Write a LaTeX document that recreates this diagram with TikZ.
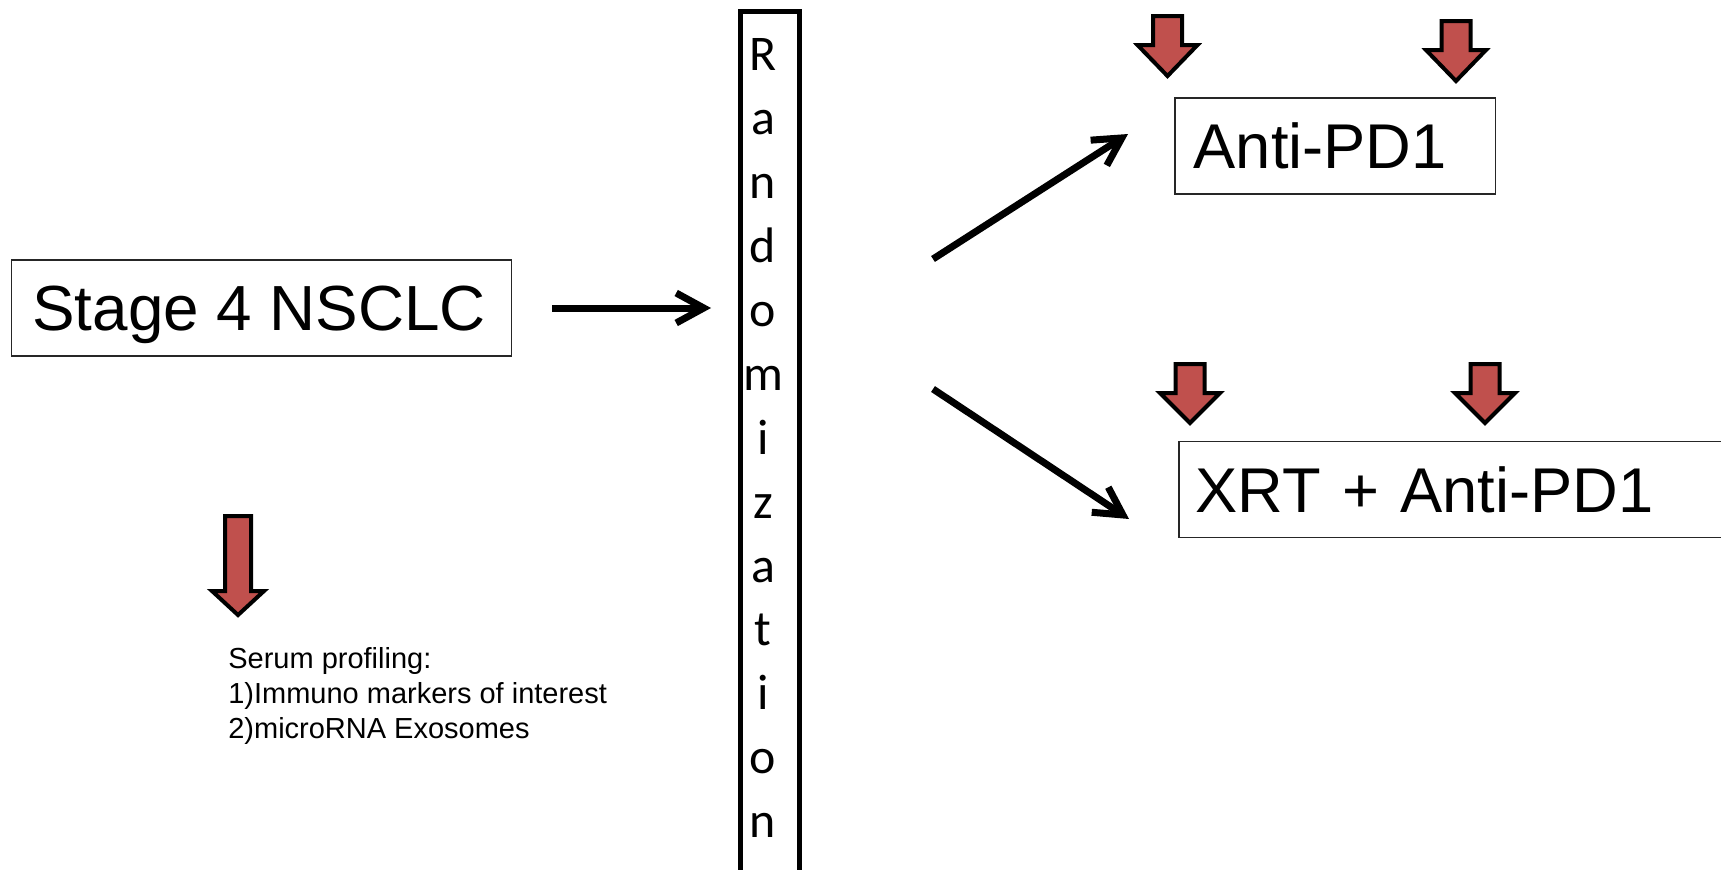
\documentclass[tikz,border=0pt]{standalone}
\usepackage{fontspec}
\setmainfont{Liberation Sans}
\newfontfamily\randfont{Carlito}
\usepackage{tikz}
\usetikzlibrary{arrows.meta, positioning}
\definecolor{markred}{HTML}{C0504D}

% sampling marker: centre x, top y, shoulder y, tip y, shaft half, head half (px)
\newcommand{\drawmark}[6]{%
  \draw[redmark] (#1-#5,#2) -- (#1+#5,#2) -- (#1+#5,#3) -- (#1+#6,#3)
    -- (#1,#4) -- (#1-#6,#3) -- (#1-#5,#3) -- cycle;}

\begin{document}
\begin{tikzpicture}[
  x=0.02cm, y=-0.02cm,
  labelbox/.style={draw=black!85, line width=0.85pt, align=left,
    minimum height=1.92cm, text depth=0pt,
    font=\fontsize{36pt}{42pt}\selectfont},
  randframe/.style={draw, line width=0.1cm, minimum width=1.18cm,
    minimum height=17.4cm, inner sep=0pt, anchor=north},
  randletters/.style={inner sep=0pt, align=center, anchor=north,
    font=\randfont\fontsize{28.4pt}{36.4pt}\selectfont},
  serumtext/.style={inner sep=0pt, align=left, font=\fontsize{16.5pt}{19.9pt}\selectfont},
  flow/.style={line width=0.14cm, -{Straight Barb[length=0.55cm, width=0.6cm]}},
  redmark/.style={draw=black, line width=0.08cm, fill=markred}
]
\useasboundingbox (0,0) rectangle (1721,869);

% Left: cohort and baseline sampling
\node[labelbox, anchor=west, minimum width=10cm, font=\fontsize{36.3pt}{42pt}\selectfont] (stage) at (11,308) {Stage 4 NSCLC\hspace*{0.1cm}};
\node[serumtext, anchor=north west] (serum) at (228,647)
  {Serum profiling:\\1)Immuno markers of interest\\2)microRNA Exosomes};
\drawmark{238}{516}{591}{615}{13}{26}

% Middle: randomization bar
\node[randframe] (rand) at (770,9) {};
\node[randletters] (randtext) at (763,38) {R\\a\\n\\d\\o\\m\\i\\z\\a\\t\\i\\o\\n};
\coordinate (forkup) at (933,259);
\coordinate (forkdown) at (933,389);

% Right: treatment arms
\node[labelbox, anchor=west, inner xsep=0.38cm, text width=5.66cm] (anti) at (1174,146) {Anti-PD1};
\node[labelbox, anchor=west, inner xsep=0.34cm, text width=10.56cm] (xrt) at (1178,489.5) {XRT + Anti-PD1};
\drawmark{1167.5}{16}{45}{76}{14.5}{30}
\drawmark{1456}{21}{50}{81}{14.5}{30}
\drawmark{1190}{364}{393}{423}{14.5}{30}
\drawmark{1485}{364}{393}{423}{14.5}{30}

% Arrows
\draw[flow, shorten <=0.8cm, shorten >=0.54cm] (stage.east) -- (stage.east -| rand.west);
\draw[flow] (forkup) -- ([xshift=-0.92cm, yshift=0.24cm]anti.west);
\draw[flow] (forkdown) -- ([xshift=-0.98cm, yshift=-0.59cm]xrt.west);
\end{tikzpicture}
\end{document}
